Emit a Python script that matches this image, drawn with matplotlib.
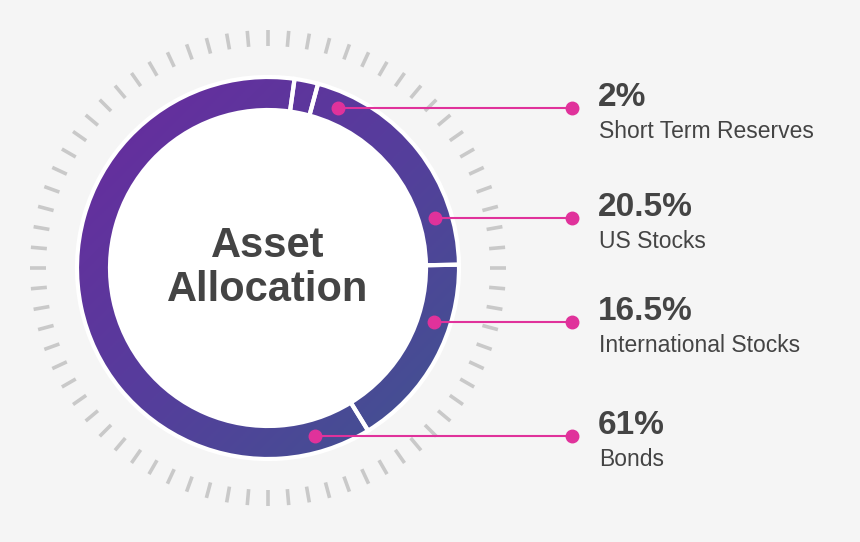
import numpy as np
import matplotlib.pyplot as plt
from matplotlib.colors import LinearSegmentedColormap
from matplotlib.patches import Circle

# chart data
labels = ['Short Term Reserves', 'US Stocks', 'International Stocks', 'Bonds']
values = [2, 20.5, 16.5, 61]
pct_text = ['2%', '20.5%', '16.5%', '61%']

W, H = 860, 542
cx, cy = 268, H - 268
r_out, ring = 191, 33
label_y = [H - 108, H - 218, H - 322, H - 436]

plt.rcParams['font.family'] = ['Liberation Sans', 'DejaVu Sans']
fig = plt.figure(figsize=(8.6, 5.42), dpi=100, facecolor='#f5f5f5')
ax = fig.add_axes([0, 0, 1, 1])

# dashed tick ring
for a in np.linspace(0, 2 * np.pi, 72, endpoint=False):
    ax.plot([cx + 222 * np.cos(a), cx + 238 * np.cos(a)],
            [cy + 222 * np.sin(a), cy + 238 * np.sin(a)],
            color='#c9c9c9', lw=2.6, solid_capstyle='butt')

# white inner disc
ax.add_patch(Circle((cx, cy), r_out - ring, color='white', zorder=0.5))

# donut with gradient fill
wedges, _ = ax.pie(values, center=(cx, cy), radius=r_out, startangle=82,
                   counterclock=False, frame=True,
                   wedgeprops=dict(width=ring, edgecolor='white', linewidth=3))
cmap = LinearSegmentedColormap.from_list('g', ['#6a2a9e', '#563d9c', '#3f5590'])
grad = np.add.outer(np.linspace(0, 1, 200), np.linspace(0, 1, 200)) / 2
for w in wedges:
    w.set_facecolor('none')
    im = ax.imshow(grad, cmap=cmap, extent=[cx - r_out, cx + r_out, cy - r_out, cy + r_out],
                   origin='upper', zorder=1)
    im.set_clip_path(w)
    w.set_zorder(2)
ax.set_xlim(0, W)
ax.set_ylim(0, H)
ax.set_aspect('equal')
ax.axis('off')

ax.text(cx, cy, 'Asset\nAllocation', ha='center', va='center', fontsize=30,
        fontweight='bold', color='#444444', linespacing=1.15)

# callouts
r_mid = r_out - ring / 2
for pct, name, y in zip(pct_text, labels, label_y):
    dy = y - cy
    x0 = cx + np.sqrt(max(r_mid ** 2 - dy ** 2, 0))
    ax.plot([x0, 572], [y, y], color='#e0329b', lw=1.5, zorder=3)
    ax.plot([x0, 572], [y, y], 'o', color='#e0329b', ms=9, zorder=4)
    ax.text(598, y + 11, pct, fontsize=24, fontweight='bold', color='#444444', va='center')
    ax.text(599, y - 24, name, fontsize=16.5, color='#444444', va='center')

fig.savefig('out.png', dpi=100, facecolor=fig.get_facecolor())
